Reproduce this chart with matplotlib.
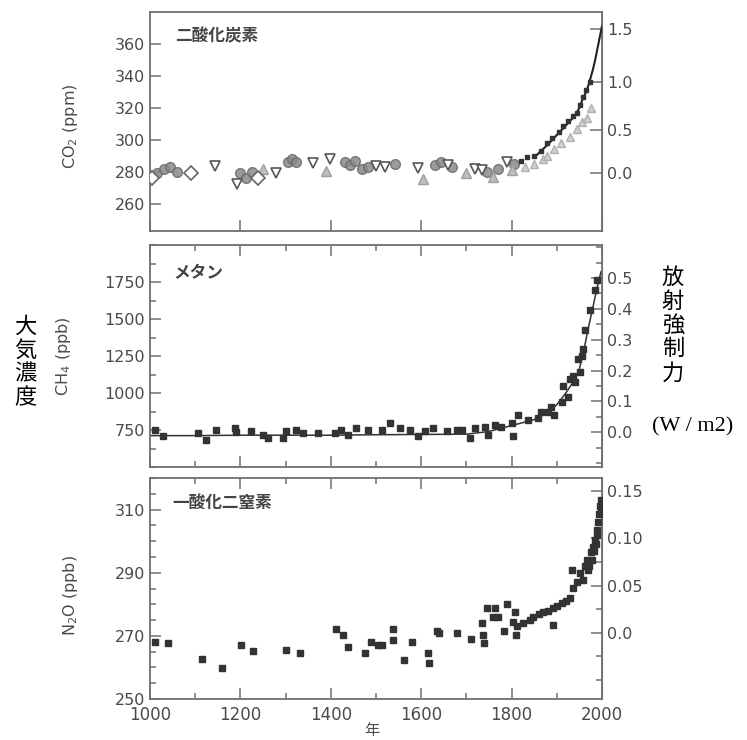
import numpy as np
import matplotlib
matplotlib.use("Agg")
import matplotlib.pyplot as plt
from matplotlib.ticker import MultipleLocator, FixedLocator, NullFormatter

plt.rcParams['font.family'] = ['DejaVu Sans', 'Noto Sans CJK JP']

# ---- CO2 (ppm), ice cores + atmospheric ----
co2_dia_yr = [1005, 1091, 1240]
co2_dia = [276, 279, 276]
co2_dtri_yr = [1144, 1192, 1279, 1361, 1398, 1500, 1520, 1593, 1660, 1720, 1735, 1790]
co2_dtri = [283.5, 272.5, 279.5, 285.5, 288, 283.5, 283, 282.5, 284, 282, 281, 286]
co2_utri_yr = [1250, 1390, 1604, 1700, 1760, 1800]
co2_utri = [282, 280.5, 275.5, 279, 277, 281]
co2_circ_yr = [1015, 1030, 1045, 1060, 1200, 1212, 1225, 1305, 1315, 1323, 1431, 1442,
               1453, 1470, 1482, 1542, 1631, 1645, 1668, 1745, 1770, 1805]
co2_circ = [279, 282, 283, 280, 279, 276, 280, 286, 288, 286, 286, 284,
            287, 282, 283, 285, 284, 286, 283, 280, 282, 285]
co2_dot_yr = [1820, 1835, 1850, 1865, 1878, 1890, 1905, 1914, 1925, 1935, 1944, 1952,
              1958, 1965, 1973]
co2_dot = [287, 289, 290, 293, 298, 301, 305, 309, 312, 315, 317, 322, 327, 331, 336]
co2_lite_yr = [1830, 1850, 1870, 1878, 1895, 1910, 1929, 1945, 1955, 1966, 1975]
co2_lite = [283, 285, 288, 290, 294, 298, 302, 307, 311, 314, 320]
co2_line_yr = [1850, 1880, 1900, 1920, 1940, 1950, 1958, 1965, 1970, 1975, 1980,
               1985, 1990, 1995, 2000]
co2_line = [289, 297, 303, 309, 315, 320, 326, 330, 334, 339, 344, 350, 357, 364, 371]

# ---- CH4 (ppb) ----
ch4_yr = [1011, 1029, 1106, 1124, 1146, 1187, 1190, 1223, 1250, 1261, 1294, 1301, 1323,
          1338, 1372, 1409, 1423, 1438, 1456, 1482, 1513, 1531, 1553, 1575, 1593, 1608,
          1626, 1657, 1679, 1690, 1708, 1719, 1741, 1748, 1763, 1777, 1800, 1804, 1814,
          1836, 1858, 1866, 1880, 1888, 1895, 1911, 1914, 1925, 1929, 1936, 1940, 1947,
          1951, 1956, 1958, 1962, 1973, 1985, 1988]
ch4 = [750, 708, 728, 683, 750, 761, 735, 741, 717, 695, 695, 741, 750,
       728, 728, 728, 750, 717, 761, 750, 750, 795, 761, 750, 708, 741,
       761, 741, 750, 750, 695, 761, 772, 717, 783, 772, 795, 708, 850,
       817, 828, 873, 873, 906, 850, 939, 1050, 973, 1095, 1117, 1075, 1228,
       1140, 1250, 1295, 1428, 1561, 1695, 1761]
ch4_line_yr = [1000, 1100, 1200, 1300, 1400, 1500, 1600, 1700, 1750, 1800, 1850, 1880,
               1900, 1920, 1940, 1950, 1960, 1970, 1980, 1990, 1998]
ch4_line = [712, 712, 715, 715, 715, 718, 720, 722, 740, 780, 820, 870,
            920, 1000, 1090, 1160, 1290, 1440, 1580, 1720, 1820]

# ---- N2O (ppb) ----
n2o_yr = [1011, 1040, 1116, 1159, 1201, 1227, 1302, 1332, 1412, 1427, 1439, 1475, 1489,
          1505, 1513, 1538, 1538, 1562, 1580, 1615, 1617, 1636, 1640, 1679, 1710, 1736,
          1738, 1734, 1745, 1763, 1760, 1770, 1783, 1789, 1807, 1803, 1810, 1811, 1825,
          1840, 1848, 1860, 1870, 1880, 1892, 1892, 1900, 1911, 1920, 1929, 1937, 1934,
          1945, 1951, 1959, 1962, 1966, 1969, 1972, 1976, 1978, 1980, 1982, 1984, 1986,
          1988, 1990, 1991, 1993, 1995, 1997, 1998]
n2o = [268.2, 267.9, 262.7, 259.9, 267.2, 265.3, 265.6, 264.6, 272.2, 270.3, 266.6, 264.7,
       268.1, 267.2, 267.2, 272.2, 268.7, 262.2, 268.2, 264.6, 261.5, 271.4, 270.9, 271.0,
       269.0, 270.3, 267.8, 274.1, 278.9, 278.9, 276.1, 276.1, 271.4, 280.1, 277.7, 274.5,
       270.3, 273.0, 274.1, 275.0, 276.1, 276.8, 277.7, 278.0, 278.9, 273.5, 279.5, 280.4,
       281.0, 282.0, 285.2, 290.9, 287.0, 289.9, 287.7, 292.0, 294.1, 291.0, 292.0, 296.5,
       294.0, 298.3, 297.0, 300.5, 299.0, 303.5, 302.0, 306.0, 308.5, 311.0, 313.0, 310.0]

yr_ticks = [1000, 1200, 1400, 1600, 1800, 2000]

tcol = '#4a4a4a'
scol = '#707070'
mcol = '#333333'

fig = plt.figure(figsize=(7.47, 7.40), dpi=100)

ax1 = fig.add_axes([0.2008, 0.6878, 0.605, 0.296])
ax2 = fig.add_axes([0.2008, 0.3689, 0.605, 0.300])
ax3 = fig.add_axes([0.2008, 0.0554, 0.605, 0.2986])


def style(ax, top_ticks=True, minor_x=True):
    ax.set_xlim(1000, 2000)
    for s in ax.spines.values():
        s.set_color(scol)
        s.set_linewidth(1.3)
    ax.xaxis.set_major_locator(FixedLocator(yr_ticks))
    if minor_x:
        ax.xaxis.set_minor_locator(MultipleLocator(100))
    ax.tick_params(which='both', direction='in', colors=scol, labelcolor=tcol,
                   labelsize=11.5, top=top_ticks, right=False, width=1.1)
    ax.tick_params(which='major', length=8)
    ax.tick_params(which='minor', length=4)


# ---- top panel: CO2 ----
style(ax1, top_ticks=False, minor_x=False)
ax1.set_ylim(243, 380)
ax1.set_yticks([260, 280, 300, 320, 340, 360])
ax1.xaxis.set_major_formatter(NullFormatter())
ax1.plot(co2_line_yr, co2_line, color='#222222', lw=1.5, zorder=4)
ax1.plot(co2_lite_yr, co2_lite, ls='none', marker='^', ms=6, mfc='#d0d0d0',
         mec='#b0b0b0', zorder=2)
ax1.plot(co2_circ_yr, co2_circ, ls='none', marker='o', ms=7, mfc='#8a8a8a',
         mec='#6a6a6a', alpha=0.85, zorder=3)
ax1.plot(co2_utri_yr, co2_utri, ls='none', marker='^', ms=7, mfc='#bdbdbd',
         mec='#a0a0a0', zorder=3)
ax1.plot(co2_dtri_yr, co2_dtri, ls='none', marker='v', ms=7, mfc='white',
         mec='#555555', mew=1.2, zorder=3)
ax1.plot(co2_dia_yr, co2_dia, ls='none', marker='D', ms=7, mfc='white',
         mec='#666666', mew=1.2, zorder=3)
ax1.plot(co2_dot_yr, co2_dot, ls='none', marker='s', ms=3.5, mfc=mcol, mec=mcol,
         zorder=4)
ax1.set_ylabel('CO$_2$ (ppm)', color=tcol, fontsize=11.5)
ax1.yaxis.set_label_coords(-0.155, 0.48)
ax1.text(0.055, 0.89, '二酸化炭素', transform=ax1.transAxes, fontsize=12,
         fontweight='bold', color='#444444', va='center',
         family=['Noto Sans CJK JP'])

C0 = 279.0
sec1 = ax1.secondary_yaxis('right', functions=(lambda c: 5.35 * np.log(np.clip(c, 1, None) / C0),
                                               lambda f: C0 * np.exp(f / 5.35)))
sec1.set_yticks([0.0, 0.5, 1.0, 1.5])
sec1.set_yticklabels(['0.0', '0.5', '1.0', '1.5'])
sec1.tick_params(direction='in', colors=scol, labelcolor=tcol, labelsize=11.5,
                 length=9, width=1.1)
sec1.spines['right'].set_color(scol)

# ---- middle panel: CH4 ----
style(ax2)
ax2.set_ylim(500, 2000)
ax2.yaxis.set_major_locator(FixedLocator([750, 1000, 1250, 1500, 1750]))
ax2.yaxis.set_minor_locator(MultipleLocator(125))
ax2.xaxis.set_major_formatter(NullFormatter())
ax2.plot(ch4_line_yr, ch4_line, color='#333333', lw=1.1, zorder=2)
ax2.plot(ch4_yr, ch4, ls='none', marker='s', ms=4.5, mfc=mcol, mec=mcol, zorder=3)
ax2.set_ylabel('CH$_4$ (ppb)', color=tcol, fontsize=11.5)
ax2.yaxis.set_label_coords(-0.17, 0.5)
ax2.text(0.051, 0.874, 'メタン', transform=ax2.transAxes, fontsize=12,
         fontweight='bold', color='#444444', va='center',
         family=['Noto Sans CJK JP'])

sec2 = ax2.secondary_yaxis('right', functions=(lambda m: (m - 735.0) / 2084.0,
                                               lambda f: f * 2084.0 + 735.0))
sec2.set_yticks([0.0, 0.1, 0.2, 0.3, 0.4, 0.5])
sec2.set_yticklabels(['0.0', '0.1', '0.2', '0.3', '0.4', '0.5'])
sec2.yaxis.set_minor_locator(MultipleLocator(0.05))
sec2.tick_params(which='both', direction='in', colors=scol, labelcolor=tcol,
                 labelsize=11.5, width=1.1)
sec2.tick_params(which='major', length=8)
sec2.tick_params(which='minor', length=4)
sec2.spines['right'].set_color(scol)

# ---- bottom panel: N2O ----
style(ax3)
ax3.set_ylim(250, 320)
ax3.yaxis.set_major_locator(FixedLocator([250, 270, 290, 310]))
ax3.yaxis.set_minor_locator(MultipleLocator(5))
ax3.set_xticklabels([str(y) for y in yr_ticks])
ax3.tick_params(axis='x', labelsize=12, pad=5)
ax3.plot(n2o_yr, n2o, ls='none', marker='s', ms=4.5, mfc=mcol, mec=mcol, zorder=3)
ax3.set_ylabel('N$_2$O (ppb)', color=tcol, fontsize=11.5)
ax3.yaxis.set_label_coords(-0.155, 0.47)
ax3.text(0.049, 0.887, '一酸化二窒素', transform=ax3.transAxes, fontsize=12,
         fontweight='bold', color='#444444', va='center',
         family=['Noto Sans CJK JP'])

sec3 = ax3.secondary_yaxis('right', functions=(lambda n: (n - 271.0) / 298.7,
                                               lambda f: f * 298.7 + 271.0))
sec3.set_yticks([0.0, 0.05, 0.10, 0.15])
sec3.set_yticklabels(['0.0', '0.05', '0.10', '0.15'])
sec3.yaxis.set_minor_locator(MultipleLocator(0.025))
sec3.tick_params(which='both', direction='in', colors=scol, labelcolor=tcol,
                 labelsize=11.5, width=1.1)
sec3.tick_params(which='major', length=8)
sec3.tick_params(which='minor', length=4)
sec3.spines['right'].set_color(scol)

# ---- annotations ----
fig.text(372 / 747, 1 - 731 / 740, '年', fontsize=11, color=tcol, ha='center',
         va='center', family=['Noto Sans CJK JP'])
fig.text(25 / 747, 1 - 362 / 740, '大\n気\n濃\n度', fontsize=16, color='black',
         ha='center', va='center', linespacing=1.05, family=['Noto Sans CJK JP'])
fig.text(673 / 747, 1 - 325 / 740, '放\n射\n強\n制\n力', fontsize=16, color='black',
         ha='center', va='center', linespacing=1.05, family=['Noto Sans CJK JP'])
fig.text(652 / 747, 1 - 427 / 740, '(W / m2)', fontsize=16, color='black',
         ha='left', va='center', family=['Liberation Serif'])

fig.savefig('out.png', dpi=100)
